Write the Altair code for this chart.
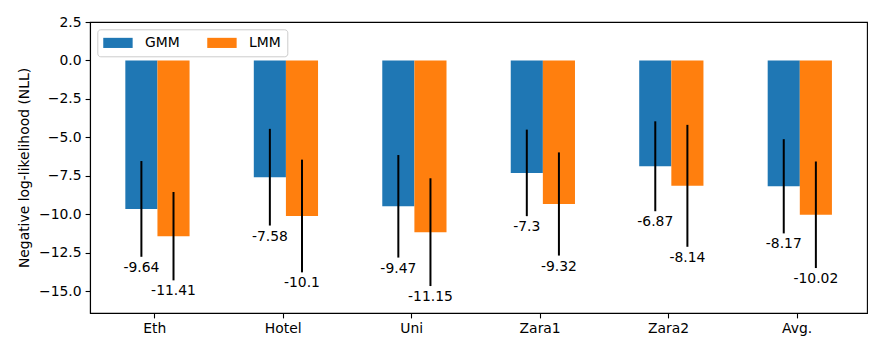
import altair as alt
import pandas as pd

# ---- data ----
categories = ["Eth", "Hotel", "Uni", "Zara1", "Zara2", "Avg."]
models = ["GMM", "LMM"]
gmm_nll = [-9.64, -7.58, -9.47, -7.3, -6.87, -8.17]
lmm_nll = [-11.41, -10.1, -11.15, -9.32, -8.14, -10.02]
gmm_std = [3.11, 3.14, 3.33, 2.81, 2.92, 3.06]
lmm_std = [2.87, 3.66, 3.50, 3.35, 3.96, 3.46]
y_ticks = [-15.0, -12.5, -10.0, -7.5, -5.0, -2.5, 0.0, 2.5]

# layout constants (bar geometry in category units)
BAR_W = 0.25
OFFSETS = {"GMM": -0.1, "LMM": 0.15}

rows = []
for i, cat in enumerate(categories):
    for m, vals, stds in (("GMM", gmm_nll, gmm_std), ("LMM", lmm_nll, lmm_std)):
        v, s = vals[i], stds[i]
        c = i + OFFSETS[m]
        rows.append({
            "category": cat, "model": m, "pos": i, "center": c,
            "x0": c - BAR_W / 2, "x1": c + BAR_W / 2,
            "value": v, "low": v - s, "high": v + s, "label": str(v),
        })
df = pd.DataFrame(rows)

FONT = "DejaVu Sans"
FS = 13.9

label_expr = " : ".join(
    f"datum.value == {i} ? '{c}'" for i, c in enumerate(categories)
) + " : ''"

xscale = alt.Scale(domain=[-0.5, 5.548], nice=False, zero=False)
yscale = alt.Scale(domain=[-16.4, 2.5], nice=False, zero=False)

# wide rectangular legend patch (29.4 x 10.1 px with symbolSize 216),
# starting at the entry's left edge
legend_symbol = "M-1,-0.69H3V0.69H-1Z"

base = alt.Chart(df)

bars = base.mark_bar(opacity=1).encode(
    x=alt.X("x0:Q", scale=xscale,
            axis=alt.Axis(values=list(range(len(categories))), labelExpr=label_expr,
                          title=None, grid=False)),
    x2="x1:Q",
    y=alt.Y("value:Q", scale=yscale,
            axis=alt.Axis(values=y_ticks, title="Negative log-likelihood (NLL)",
                          labelExpr="replace(format(datum.value, '.1f'), '-', '\u2212')",
                          grid=False, titleAngle=270, titleX=-66, titleY=145.5,
                          titleAlign="center", titleBaseline="middle")),
    y2=alt.Y2(datum=0),
    color=alt.Color("model:N",
                    scale=alt.Scale(domain=models, range=["#1f77b4", "#ff7f0e"]),
                    legend=alt.Legend(orient="none", legendX=7.3, legendY=7.3,
                                      direction="horizontal", columns=2, title=None,
                                      symbolType=legend_symbol, symbolSize=216,
                                      symbolStrokeWidth=0, symbolOpacity=1,
                                      labelFont=FONT, labelFontSize=FS, labelColor="black",
                                      labelOffset=27, columnPadding=27, padding=5.8,
                                      fillColor="white", strokeColor="#cccccc",
                                      cornerRadius=3)),
)

errs = base.mark_rule(color="black", strokeWidth=2).encode(
    x=alt.X("center:Q", scale=xscale),
    y=alt.Y("low:Q", scale=yscale),
    y2="high:Q",
)

labels = base.mark_text(baseline="top", align="center", dy=4, font=FONT,
                        fontSize=FS, color="black").encode(
    x=alt.X("center:Q", scale=xscale),
    y=alt.Y("low:Q", scale=yscale),
    text="label:N",
)

chart = alt.layer(bars, errs, labels).properties(
    width=777, height=291,
    autosize=alt.AutoSizeParams(type="none"),
    padding={"left": 82, "top": 14, "right": 8, "bottom": 33},
    background="white",
).configure_view(
    stroke="black", strokeWidth=1.1
).configure_axis(
    domainColor="black", domainWidth=1.1, tickColor="black", tickWidth=1.1,
    tickSize=4.9, labelPadding=4, labelColor="black", labelFont=FONT,
    labelFontSize=FS, titleFont=FONT, titleFontSize=FS, titleFontWeight="normal",
    titleColor="black",
)

chart.save("out.html", embed_options={"renderer": "svg", "actions": False})
